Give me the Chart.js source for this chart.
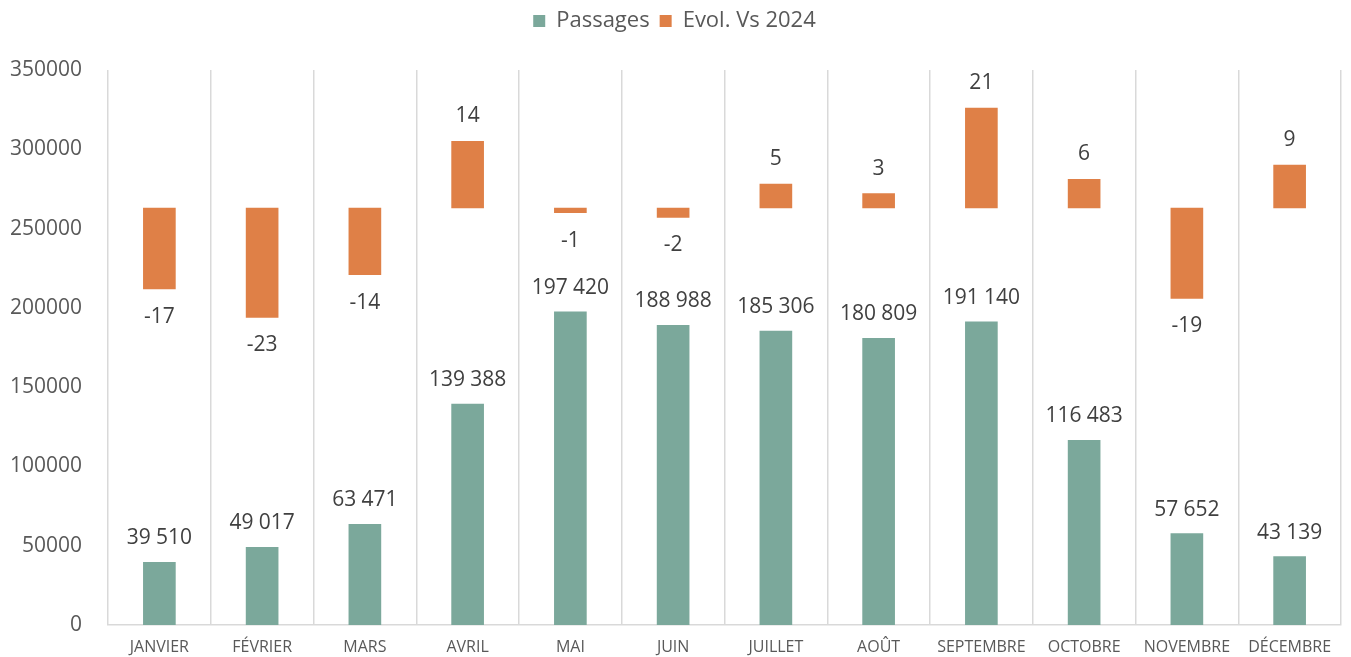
<!DOCTYPE html>
<html>
<head>
<meta charset="utf-8">
<script src="https://cdn.jsdelivr.net/npm/chart.js@4"></script>
<style>
  body { margin: 0; background: #fff; }
  #wrap { width: 1351px; height: 657px; }
</style>
</head>
<body>
<div id="wrap"><canvas id="passagesChart"></canvas></div>
<script>
const months = ["JANVIER", "FÉVRIER", "MARS", "AVRIL", "MAI", "JUIN", "JUILLET", "AOÛT", "SEPTEMBRE", "OCTOBRE", "NOVEMBRE", "DÉCEMBRE"];
const passages = [39510, 49017, 63471, 139388, 197420, 188988, 185306, 180809, 191140, 116483, 57652, 43139];
const evolution = [-17, -23, -14, 14, -1, -2, 5, 3, 21, 6, -19, 9];
const yTicks = [0, 50000, 100000, 150000, 200000, 250000, 300000, 350000];

// les barres d'évolution flottent autour d'une ligne de base fixe
const evolBase = 263000;
const evolUnit = 3000;

const textColor = "#595959";
const labelColor = "#404040";
const fontFamily = "'Open Sans', sans-serif";

function formatNombre(n) {
    return String(n).replace(/\B(?=(\d{3})+(?!\d))/g, " ");
}

const valueLabels = {
    id: "valueLabels",
    afterDatasetsDraw(chart) {
        let ctx = chart.ctx;
        ctx.save();
        ctx.font = "21px " + fontFamily;
        ctx.fillStyle = labelColor;
        ctx.textAlign = "center";
        ctx.textBaseline = "middle";

        chart.getDatasetMeta(0).data.forEach((bar, i) => {
            ctx.fillText(formatNombre(passages[i]), bar.x, bar.y - 24);
        });

        chart.getDatasetMeta(1).data.forEach((bar, i) => {
            let top = Math.min(bar.y, bar.base);
            let bottom = Math.max(bar.y, bar.base);
            if (evolution[i] >= 0) {
                ctx.fillText(String(evolution[i]), bar.x, top - 25);
            } else {
                ctx.fillText(String(evolution[i]), bar.x, bottom + 28);
            }
        });
        ctx.restore();
    }
};

// un peu plus d'espace sous la légende
const legendSpace = {
    id: "legendSpace",
    beforeInit(chart) {
        let fit = chart.legend.fit;
        chart.legend.fit = function () {
            fit.bind(chart.legend)();
            this.height += 28;
        };
    }
};

let ctx = document.getElementById("passagesChart").getContext("2d");
new Chart(ctx, {
    type: "bar",
    data: {
        labels: months,
        datasets: [
            {
                label: "Passages",
                data: passages,
                backgroundColor: "#7BA89B",
                grouped: false,
                barThickness: 32
            },
            {
                label: "Evol. Vs 2024",
                data: evolution.map(v => [evolBase, evolBase + v * evolUnit]),
                backgroundColor: "#DF8047",
                grouped: false,
                barThickness: 32
            }
        ]
    },
    options: {
        responsive: true,
        maintainAspectRatio: false,
        animation: false,
        layout: { padding: { left: 8, right: 10, top: 0, bottom: 0 } },
        plugins: {
            legend: {
                position: "top",
                labels: {
                    boxWidth: 12,
                    boxHeight: 12,
                    padding: 10,
                    color: textColor,
                    font: { family: fontFamily, size: 22 }
                }
            },
            tooltip: { enabled: false }
        },
        scales: {
            x: {
                afterFit: axis => { axis.height = 32; },
                grid: {
                    offset: true,
                    color: "#D9D9D9",
                    lineWidth: 1.5,
                    drawTicks: false
                },
                border: { color: "#D9D9D9", width: 1.5 },
                ticks: {
                    color: textColor,
                    padding: 13,
                    font: { family: fontFamily, size: 16 }
                }
            },
            y: {
                min: 0,
                max: 350000,
                afterBuildTicks: axis => { axis.ticks = yTicks.map(v => ({ value: v })); },
                afterFit: axis => { axis.width = 100; },
                grid: { display: false },
                border: { display: false },
                ticks: {
                    color: textColor,
                    padding: 18,
                    font: { family: fontFamily, size: 21 },
                    callback: v => String(v)
                }
            }
        }
    },
    plugins: [valueLabels, legendSpace]
});
</script>
</body>
</html>
